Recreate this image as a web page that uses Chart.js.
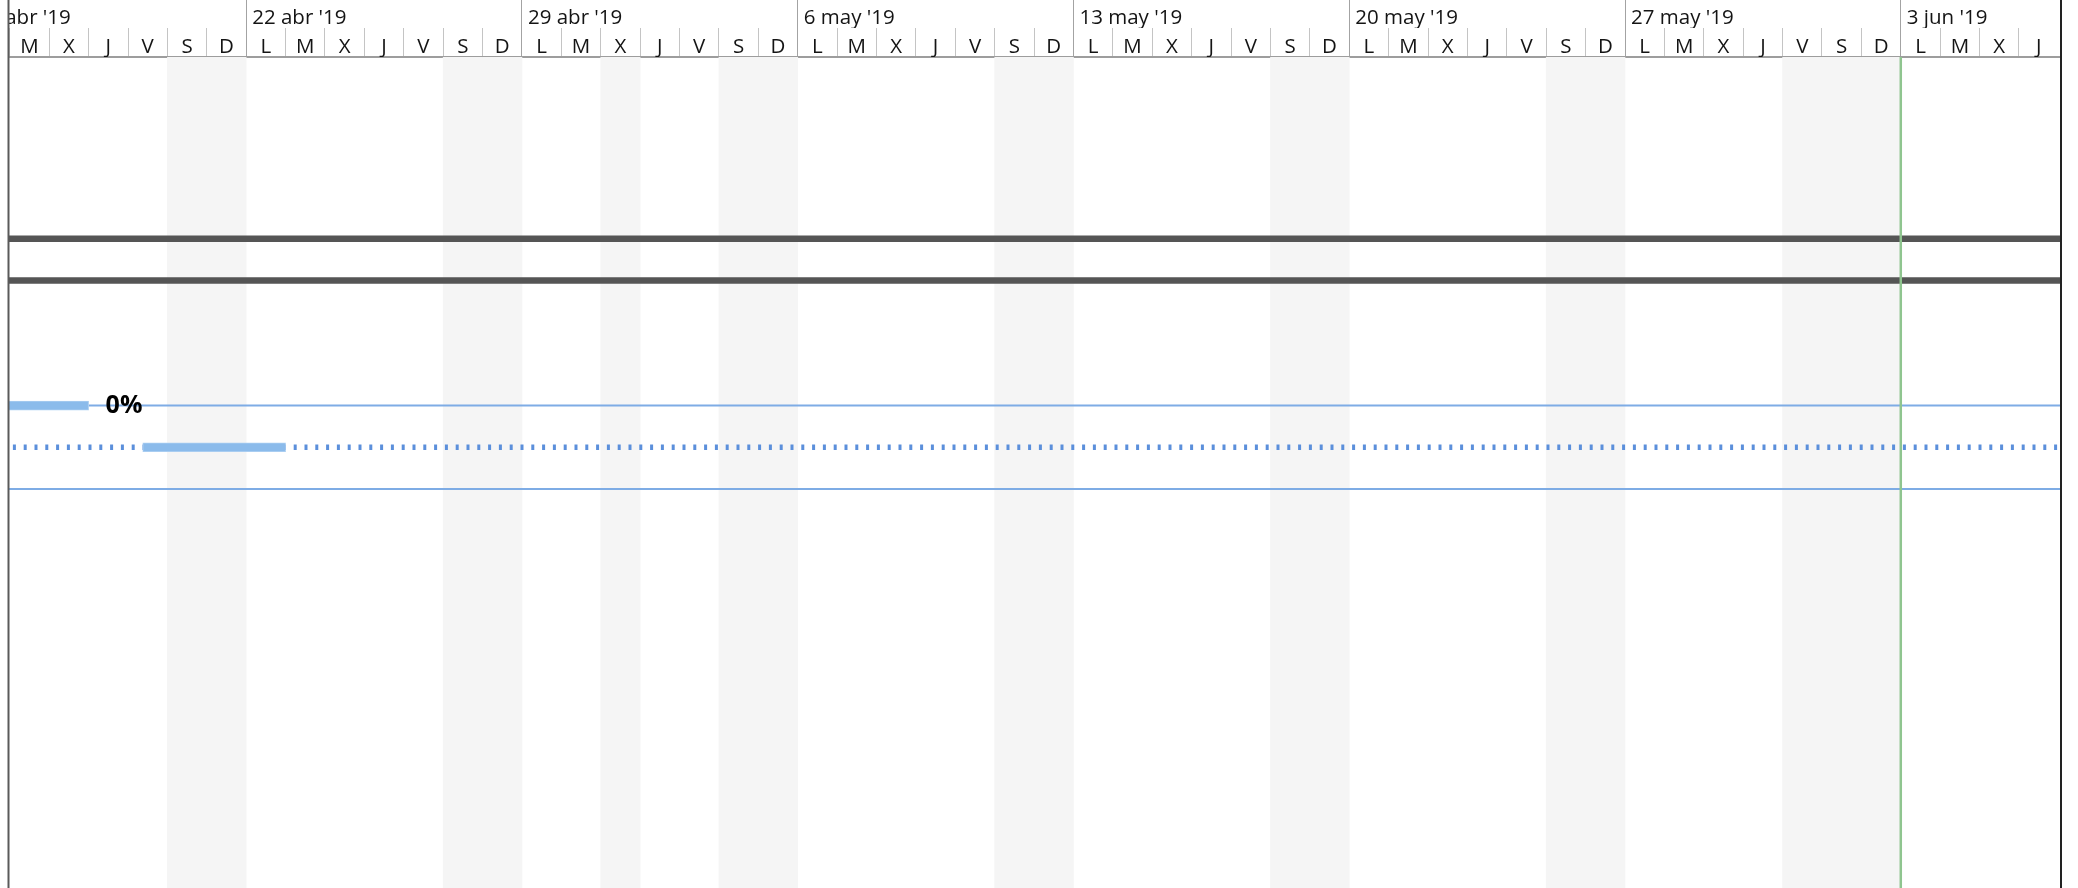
<!DOCTYPE html>
<html><head><meta charset="utf-8">
<script src="https://cdn.jsdelivr.net/npm/chart.js@4/dist/chart.umd.min.js"></script>
<style>html,body{margin:0;padding:0;background:#fff;}canvas{display:block;}</style>
</head><body>
<canvas id="c" width="2078" height="888"></canvas>
<script>
// ---- data ----
const timelineOrigin = '2019-04-15';            // Monday of the first (partly visible) week
const viewFrom = '2019-04-15T23:30';
const viewTo = '2019-06-07T01:00';
const weekStarts = ['2019-04-15','2019-04-22','2019-04-29','2019-05-06','2019-05-13','2019-05-20','2019-05-27','2019-06-03'];
const weekLabels = ["15 abr '19","22 abr '19","29 abr '19","6 may '19","13 may '19","20 may '19","27 may '19","3 jun '19"];
const dayLetters = ['L','M','X','J','V','S','D'];
const nonWorkingDays = ['2019-04-20','2019-04-21','2019-04-27','2019-04-28','2019-05-01','2019-05-04','2019-05-05',
  '2019-05-11','2019-05-12','2019-05-18','2019-05-19','2019-05-25','2019-05-26','2019-05-31','2019-06-01','2019-06-02'];
const summaryRows = [4, 5];
const summaryStarts = ['2019-03-04', '2019-03-04'];
const summaryEnds = ['2019-09-27', '2019-09-27'];
const taskRows = [8, 9];
const taskStarts = ['2019-04-10', '2019-04-19T09:00'];
const taskEnds = ['2019-04-18', '2019-04-23'];
const taskLabels = ['0%', ''];
const thinLineRows = [8, 10];
const thinLineStarts = ['2019-04-18', '2019-04-01'];
const thinLineEnds = ['2019-09-27', '2019-09-27'];
const dottedRows = [9];
const dottedStarts = ['2019-04-01'];
const dottedEnds = ['2019-09-27'];
const statusDate = '2019-06-03';
const rowRange = [-0.36, 19.57];

// ---- helpers ----
function dayNum(s) {
  const [d, t] = s.split('T');
  const [Y, M, D] = d.split('-').map(Number);
  let h = 0, m = 0;
  if (t) [h, m] = t.split(':').map(Number);
  const [oY, oM, oD] = timelineOrigin.split('-').map(Number);
  return (Date.UTC(Y, M - 1, D, h, m) - Date.UTC(oY, oM - 1, oD)) / 86400000;
}
const xMin = dayNum(viewFrom), xMax = dayNum(viewTo);
const FONT = '"Open Sans", "Noto Sans", sans-serif';

const datasets = [];
// non-working day shading
datasets.push({
  type: 'bar', indexAxis: 'y', order: 10,
  data: nonWorkingDays.map(d => ({ y: (rowRange[0] + rowRange[1]) / 2, x: [dayNum(d), dayNum(d) + 1] })),
  backgroundColor: '#f5f5f5', barThickness: 1200, grouped: false, borderWidth: 0, borderSkipped: false, clip: 0
});
// thin blue lines
thinLineRows.forEach((r, i) => datasets.push({
  type: 'line', indexAxis: 'x', order: 5,
  data: [{ x: dayNum(thinLineStarts[i]), y: r }, { x: dayNum(thinLineEnds[i]), y: r }],
  borderColor: '#7eace5', borderWidth: 2, pointRadius: 0, tension: 0, fill: false, clip: 0
}));
// dotted lines
dottedRows.forEach((r, i) => datasets.push({
  type: 'line', indexAxis: 'x', order: 5,
  data: [{ x: dayNum(dottedStarts[i]), y: r }, { x: dayNum(dottedEnds[i]), y: r }],
  borderColor: '#5b8fdb', borderWidth: 5.5, borderDash: [3, 7.8], borderCapStyle: 'butt',
  pointRadius: 0, tension: 0, fill: false, clip: 0
}));
// summary bars
datasets.push({
  type: 'bar', indexAxis: 'y', order: 3,
  data: summaryRows.map((r, i) => ({ y: r, x: [dayNum(summaryStarts[i]), dayNum(summaryEnds[i])] })),
  backgroundColor: '#555555', barThickness: 6, grouped: false, borderWidth: 0, borderSkipped: false, clip: 0
});
// task bars
const taskDatasetIndex = datasets.length;
datasets.push({
  type: 'bar', indexAxis: 'y', order: 2,
  data: taskRows.map((r, i) => ({ y: r, x: [dayNum(taskStarts[i]), dayNum(taskEnds[i])] })),
  backgroundColor: '#8bbbeb', borderColor: '#a9cdf1', borderWidth: 1, barThickness: 9,
  grouped: false, borderSkipped: false, clip: 0
});
// status date line
datasets.push({
  type: 'line', indexAxis: 'x', order: 0,
  data: [{ x: dayNum(statusDate), y: rowRange[0] }, { x: dayNum(statusDate), y: rowRange[1] }],
  borderColor: '#8fc58f', borderWidth: 2.5, pointRadius: 0, tension: 0, fill: false, clip: 0
});

const taskLabelPlugin = {
  id: 'barLabels',
  afterDatasetsDraw(chart) {
    const meta = chart.getDatasetMeta(taskDatasetIndex);
    const ctx = chart.ctx;
    ctx.save();
    ctx.font = 'bold 25px ' + FONT;
    ctx.fillStyle = '#000';
    ctx.textBaseline = 'alphabetic';
    ctx.textAlign = 'left';
    meta.data.forEach((bar, i) => {
      if (!taskLabels[i]) return;
      const right = Math.max(bar.x, bar.base);
      ctx.fillText(taskLabels[i], right + 17, bar.y + 7);
    });
    ctx.restore();
  }
};
const framePlugin = {
  id: 'frame',
  afterDraw(chart) {
    const ctx = chart.ctx, a = chart.chartArea;
    ctx.save();
    ctx.fillStyle = '#fff';
    ctx.fillRect(0, 0, a.left - 1, chart.height);
    ctx.lineWidth = 2;
    ctx.strokeStyle = '#5a5a5a';
    ctx.beginPath(); ctx.moveTo(a.left - 0.5, 0); ctx.lineTo(a.left - 0.5, chart.height); ctx.stroke();
    ctx.strokeStyle = '#222';
    ctx.beginPath(); ctx.moveTo(a.right + 1, 0); ctx.lineTo(a.right + 1, chart.height); ctx.stroke();
    ctx.restore();
  }
};

const noOffset = { offset: false, bounds: 'data', grace: 0 };

new Chart(document.getElementById('c'), {
  type: 'line',
  data: { datasets },
  options: {
    responsive: false, animation: false, devicePixelRatio: 1, events: [],
    layout: { padding: { left: 9, right: 18, top: 0, bottom: 0 } },
    plugins: { legend: { display: false }, tooltip: { enabled: false } },
    scales: {
      x: Object.assign({ type: 'linear', axis: 'x', position: 'top', display: false, min: xMin, max: xMax,
        grid: { offset: false } }, noOffset),
      y: Object.assign({ type: 'linear', axis: 'y', position: 'left', display: false, reverse: true,
        min: rowRange[0], max: rowRange[1], beginAtZero: false, grid: { offset: false } }, noOffset),
      xWeek: Object.assign({
        type: 'linear', axis: 'x', position: 'top', weight: 2, min: xMin, max: xMax,
        afterBuildTicks: s => { s.ticks = weekStarts.map(w => ({ value: dayNum(w) })); },
        afterFit: s => { s.height = 28; },
        grid: { offset: false, drawOnChartArea: false, drawTicks: true, tickLength: 28, color: '#a3a3a3', lineWidth: 1 },
        border: { display: false },
        ticks: {
          callback: (v, i) => weekLabels[i], align: 'start', labelOffset: 6, padding: -30.2,
          autoSkip: false, maxRotation: 0, minRotation: 0, color: '#141414',
          font: { family: FONT, size: 20.5 }
        }
      }, noOffset),
      xDay: Object.assign({
        type: 'linear', axis: 'x', position: 'top', weight: 1, min: xMin, max: xMax,
        afterBuildTicks: s => {
          const t = [];
          for (let d = Math.ceil(xMin); d < Math.floor(xMax); d++) t.push({ value: d });
          s.ticks = t;
        },
        afterFit: s => { s.height = 29; },
        grid: {
          offset: false, drawOnChartArea: false, drawTicks: true, tickLength: 29, lineWidth: 1,
          color: c => (c.tick && Math.round(c.tick.value) % 7 === 0) ? '#a3a3a3' : '#c4c4c4'
        },
        border: { display: true, color: '#9d9d9d', width: 2 },
        ticks: {
          callback: v => dayLetters[((Math.round(v) % 7) + 7) % 7], align: 'center', labelOffset: 19.7,
          padding: -31.5, autoSkip: false, maxRotation: 0, minRotation: 0, color: '#141414',
          font: { family: FONT, size: 20.5 }
        }
      }, noOffset)
    }
  },
  plugins: [taskLabelPlugin, framePlugin]
});
</script>
</body></html>
